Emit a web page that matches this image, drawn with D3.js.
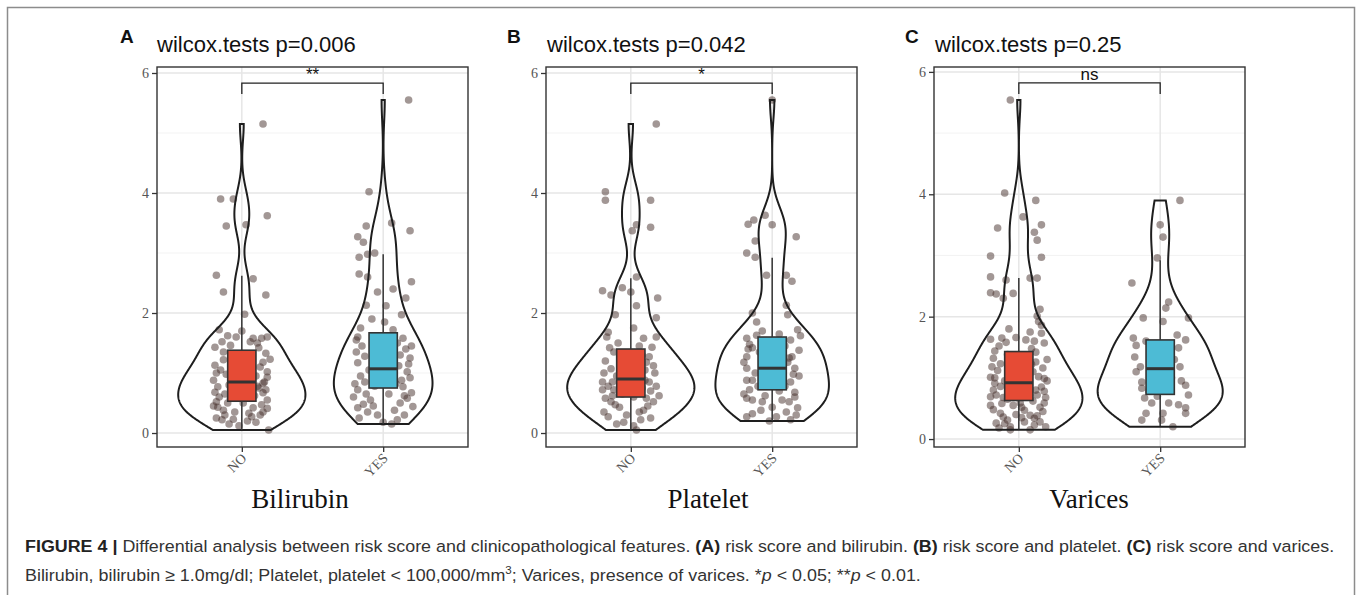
<!DOCTYPE html>
<html>
<head>
<meta charset="utf-8">
<script src="https://cdn.jsdelivr.net/npm/d3@7"></script>
<style>
body { margin: 0; background: #fff; }
svg { display: block; }
</style>
</head>
<body>
<svg width="1357" height="595"></svg>
<script>
"use strict";

// ---- data ----
const groups = ["NO", "YES"];
const panelLetters = ["A", "B", "C"];
const pValues = ["0.006", "0.042", "0.25"];
const sigLabels = ["**", "*", "ns"];
const xTitles = ["Bilirubin", "Platelet", "Varices"];
const yTicks = [0, 2, 4, 6];
const yMinorTicks = [1, 3, 5];
const yDomains = [[-0.233, 6.1], [-0.233, 6.1], [-0.13, 6.08]];
const bracketY = [[5.83, 5.65], [5.83, 5.65], [5.82, 5.64]];

// box stats: [lower whisker, q1, median, q3, upper whisker]
const boxBilirubin = [[0.05, 0.53, 0.85, 1.38, 2.62], [0.15, 0.75, 1.07, 1.67, 2.98]];
const boxPlatelet = [[0.05, 0.6, 0.9, 1.4, 2.58], [0.2, 0.72, 1.08, 1.6, 2.92]];
const boxVarices = [[0.15, 0.63, 0.92, 1.43, 2.63], [0.21, 0.73, 1.15, 1.62, 2.92]];

// jittered points: [x offset in category units, risk score]
const bilirubinNO = [
  [0.15,5.15],[-0.15,3.9],[-0.06,3.9],[0.18,3.62],[-0.11,3.45],[0.03,3.47],[-0.18,2.63],[0.08,2.57],
  [-0.13,2.35],[0.17,2.3],[0.02,1.98],[-0.16,1.72],[-0.10,1.62],[0.0,1.7],[0.08,1.58],[0.18,1.6],
  [-0.19,1.43],[-0.13,1.35],[0.11,1.5],[0.17,1.33],[0.15,1.18],[-0.19,1.13],[-0.13,1.22],[0.18,1.02],
  [0.18,0.93],[-0.2,0.88],[-0.17,0.77],[0.15,0.83],[0.16,0.85],[-0.19,0.68],[-0.16,0.6],[0.15,0.67],
  [0.18,0.55],[-0.18,0.52],[-0.17,0.43],[-0.13,0.38],[-0.05,0.35],[-0.12,0.3],[-0.18,0.25],[-0.14,0.22],
  [-0.06,0.23],[0.07,0.27],[0.1,0.18],[0.15,0.35],[0.18,0.41],[0.14,0.47],[0.19,0.05],[0.06,1.52],
  [-0.04,1.6],[0.12,1.42],[-0.08,1.46],[0.05,1.25],[-0.07,1.1],[0.02,1.0],[-0.02,0.95],[0.07,0.9],
  [-0.09,0.8],[0.04,0.72],[-0.04,0.7],[0.09,0.62],[-0.08,0.58],[0.01,0.5],[0.12,0.75],[-0.11,0.98],
  [0.13,1.1],[-0.15,1.05],[0.1,0.95],[-0.12,0.65],[0.08,0.42],[-0.02,0.12],[0.04,0.2],[-0.09,0.15],
  [0.13,0.3],[0.17,0.72],[-0.18,1.0],[0.2,1.23],[-0.2,0.45],[0.11,0.78],[-0.14,1.52],[0.05,0.33],
  [-0.1,0.5],[0.14,1.58]
];
const bilirubinYES = [
  [0.18,5.55],[-0.10,4.02],[-0.12,3.45],[-0.18,3.27],[-0.14,3.18],[0.06,3.5],[0.19,3.37],[-0.17,2.93],
  [-0.11,2.98],[-0.06,3.0],[-0.17,2.65],[-0.11,2.6],[0.2,2.52],[-0.04,2.35],[0.07,2.4],[0.16,2.25],
  [-0.12,2.13],[0.02,2.12],[0.13,1.97],[-0.08,1.9],[0.01,1.85],[-0.16,1.75],[0.07,1.72],[0.14,1.58],
  [-0.18,1.6],[0.19,1.25],[0.19,0.92],[-0.18,1.17],[-0.21,0.6],[-0.18,0.72],[-0.11,0.35],[0.0,0.18],
  [0.06,0.15],[-0.18,0.42],[0.17,0.58],[0.2,0.67],[0.21,0.44],[0.14,0.77],[0.13,0.88],[-0.15,1.45],
  [-0.19,1.35],[0.16,1.4],[0.1,1.5],[-0.07,1.55],[0.05,1.62],[-0.13,1.28],[0.12,1.3],[-0.1,1.05],
  [0.11,1.12],[-0.16,0.95],[0.17,1.02],[-0.13,0.85],[0.09,0.82],[-0.06,0.78],[0.04,0.65],[-0.09,0.55],
  [0.12,0.5],[-0.14,0.48],[0.08,0.38],[-0.04,0.3],[0.15,0.3],[-0.17,0.25],[0.1,0.22],[-0.07,0.45],
  [0.02,0.95],[-0.02,1.2],[0.07,1.38],[0.18,1.15],[-0.2,0.82],[0.15,0.62],[-0.12,0.65],[0.06,0.98],
  [-0.05,0.88],[0.2,1.45],[-0.19,1.55]
];
const plateletNO = [
  [0.18,5.15],[-0.18,4.02],[-0.18,3.88],[0.14,3.88],[0.04,3.47],[0.14,3.43],[0.01,3.37],[-0.2,2.37],
  [-0.14,2.3],[-0.06,2.42],[0.0,2.35],[0.04,2.6],[0.19,2.25],[-0.11,1.97],[0.18,1.92],[0.04,2.12],
  [-0.16,1.68],[-0.17,1.6],[0.02,1.75],[0.09,1.58],[0.18,1.6],[0.15,1.43],[0.13,1.27],[0.11,1.18],
  [-0.19,1.0],[-0.13,0.85],[-0.2,0.85],[-0.14,1.07],[0.13,0.85],[0.17,1.0],[-0.18,0.58],[-0.14,0.52],
  [-0.11,0.47],[-0.08,0.43],[-0.19,0.35],[-0.16,0.27],[-0.05,0.18],[0.04,0.05],[0.07,0.22],[0.09,0.38],
  [0.16,0.52],[0.11,0.58],[-0.09,1.5],[0.06,1.45],[-0.12,1.35],[0.08,1.3],[-0.03,1.25],[0.03,1.15],
  [-0.07,1.12],[0.1,1.05],[-0.1,0.95],[0.05,0.92],[-0.02,0.8],[0.08,0.75],[-0.12,0.72],[0.14,0.7],
  [-0.06,0.65],[0.02,0.6],[-0.16,0.78],[0.18,0.78],[0.12,0.45],[-0.03,0.3],[0.02,0.12],[-0.1,0.15],
  [0.14,0.25],[-0.18,1.2],[0.16,1.12],[-0.15,1.42],[0.2,0.62],[-0.04,0.95],[0.06,0.35],[-0.13,0.62],
  [0.1,0.88],[-0.2,0.72]
];
const plateletYES = [
  [0.0,5.55],[-0.05,3.63],[-0.13,3.55],[-0.17,3.48],[0.0,3.47],[0.17,3.27],[-0.12,3.2],[-0.18,3.0],
  [-0.12,2.93],[-0.04,2.63],[0.1,2.63],[0.14,2.53],[0.1,2.13],[-0.14,2.0],[-0.11,1.85],[0.11,1.97],
  [0.18,1.72],[-0.11,1.63],[-0.18,1.58],[-0.14,1.42],[-0.18,1.27],[0.13,1.55],[0.14,1.27],[0.16,1.08],
  [-0.18,1.08],[-0.18,0.88],[-0.14,0.88],[0.13,0.85],[0.16,0.68],[-0.16,0.72],[-0.18,0.58],[-0.14,0.55],
  [-0.08,0.38],[-0.07,0.52],[0.07,0.55],[0.12,0.52],[0.18,0.42],[-0.18,0.27],[0.03,0.27],[0.13,0.22],
  [0.0,0.43],[-0.16,1.48],[0.09,1.45],[0.19,1.38],[-0.09,1.35],[0.04,1.3],[-0.2,1.18],[0.11,1.18],
  [-0.06,1.12],[0.07,1.0],[-0.12,1.0],[0.19,0.95],[-0.03,0.92],[0.09,0.78],[-0.1,0.78],[0.16,0.6],
  [-0.2,0.65],[0.05,0.7],[-0.05,0.62],[0.1,0.35],[-0.14,0.32],[0.17,0.3],[-0.02,0.2],[0.2,1.62],
  [-0.07,1.7],[0.05,1.65],[0.15,0.98],[-0.17,1.4],[0.12,1.25]
];
const varicesNO = [
  [-0.06,5.54],[-0.1,4.02],[0.12,3.9],[0.03,3.63],[0.16,3.5],[0.11,3.38],[-0.15,3.45],[0.13,3.25],
  [-0.2,2.99],[0.16,2.97],[-0.2,2.65],[-0.09,2.6],[0.08,2.63],[0.13,2.63],[-0.2,2.39],[-0.16,2.37],
  [-0.11,2.3],[-0.04,2.38],[0.15,2.12],[0.13,2.01],[0.16,1.86],[0.08,1.75],[0.16,1.73],[-0.2,1.63],
  [-0.12,1.65],[-0.02,1.66],[0.05,1.62],[0.11,1.6],[0.18,1.57],[-0.17,1.44],[-0.18,1.32],[-0.13,1.23],
  [0.12,1.26],[0.17,1.16],[-0.2,1.01],[-0.17,0.91],[-0.18,0.8],[0.18,0.99],[0.16,0.85],[0.13,0.72],
  [-0.2,0.69],[0.18,0.59],[0.15,0.52],[-0.2,0.55],[-0.13,0.42],[-0.11,0.36],[-0.08,0.31],[0.08,0.39],
  [0.11,0.34],[0.15,0.28],[-0.06,0.2],[-0.06,0.15],[0.08,0.15],[0.11,0.23],[-0.16,0.26],[0.01,0.59],
  [0.04,0.47],[-0.14,1.52],[0.09,1.48],[-0.08,1.38],[0.06,1.35],[-0.15,1.12],[0.1,1.1],[-0.05,1.05],
  [0.03,0.98],[-0.1,0.95],[0.07,0.9],[-0.13,0.86],[0.12,0.8],[-0.03,0.78],[0.05,0.75],[-0.16,0.72],
  [0.19,0.68],[-0.08,0.65],[0.1,0.62],[-0.12,0.58],[0.02,0.52],[-0.18,0.48],[0.17,0.45],[-0.02,0.4],
  [0.13,0.38],[-0.1,0.25],[0.04,0.28],[0.19,0.2],[-0.14,0.18],[0.0,1.2],[-0.19,1.18],[0.2,1.3],
  [0.14,1.02],[-0.06,0.88],[0.07,0.7],[-0.11,0.68],[0.09,1.22],[-0.17,1.0],[0.18,0.78],[0.02,0.35],
  [-0.04,0.55],[0.12,1.42],[-0.09,1.58],[0.14,1.92],[-0.07,1.8],[0.2,0.95]
];
const varicesYES = [
  [0.14,3.9],[0.0,3.5],[0.02,3.3],[-0.02,2.96],[-0.2,2.55],[0.04,2.14],[0.06,2.24],[-0.12,1.98],
  [0.02,1.92],[0.2,1.98],[-0.19,1.65],[-0.17,1.53],[0.18,1.62],[0.13,1.49],[-0.18,1.34],[-0.14,1.18],
  [0.14,1.18],[-0.13,0.93],[-0.13,0.83],[0.18,0.88],[0.2,0.72],[-0.11,0.67],[-0.06,0.59],[0.06,0.59],
  [0.13,0.56],[0.18,0.51],[0.18,0.42],[-0.1,0.42],[-0.13,0.31],[0.01,0.31],[0.02,0.42],[0.09,0.2],
  [-0.05,1.45],[0.05,1.4],[-0.03,1.05],[0.08,1.0],[-0.08,0.78],[0.04,0.8],[0.1,1.3],[-0.1,1.6],
  [0.15,0.95],[-0.17,1.1],[-0.02,0.7],[0.12,1.7]
];

const panelPoints = [[bilirubinNO, bilirubinYES], [plateletNO, plateletYES], [varicesNO, varicesYES]];
const panelBoxes = [boxBilirubin, boxPlatelet, boxVarices];
const groupColors = ["#E64B35", "#4DBBD5"];

const captionLine1 = [
  {t: "FIGURE 4 | ", b: true}, {t: "Differential analysis between risk score and clinicopathological features. "},
  {t: "(A)", b: true}, {t: " risk score and bilirubin. "}, {t: "(B)", b: true}, {t: " risk score and platelet. "},
  {t: "(C)", b: true}, {t: " risk score and varices."}
];
const captionLine2 = [
  {t: "Bilirubin, bilirubin \u2265 1.0mg/dl; Platelet, platelet < 100,000/mm"}, {t: "3", sup: true},
  {t: "; Varices, presence of varices. *"}, {t: "p", i: true}, {t: " < 0.05; **"}, {t: "p", i: true}, {t: " < 0.01."}
];

// ---- layout ----
const svg = d3.select("svg");
const panelLeft = [157, 546, 934];
const panelWidth = 311;
const panelTop = 67, panelBottom = 447;
const letterX = [120, 507, 905];
const titleX = [157, 547, 935];
const xTitleX = [300, 708, 1089];

svg.append("rect")
  .attr("x", 7.5).attr("y", 7.5).attr("width", 1347).attr("height", 600)
  .attr("fill", "none").attr("stroke", "#8c8c8c").attr("stroke-width", 1.5);

function kde(values) {
  const sorted = values.slice().sort(d3.ascending);
  const n = sorted.length;
  const sd = d3.deviation(sorted);
  const iqr = d3.quantile(sorted, 0.75) - d3.quantile(sorted, 0.25);
  const bw = 0.9 * Math.min(sd, iqr / 1.34) * Math.pow(n, -0.2);
  const lo = sorted[0], hi = sorted[n - 1];
  return d3.range(512).map(i => {
    const g = lo + (hi - lo) * i / 511;
    const d = d3.mean(sorted, v => Math.exp(-0.5 * ((g - v) / bw) ** 2)) / (bw * Math.sqrt(2 * Math.PI));
    return [g, d];
  });
}

function drawPanel(p) {
  const left = panelLeft[p], right = left + panelWidth;
  const x = d3.scalePoint().domain(groups).range([left, right]).padding(0.6);
  const step = x.step();
  const y = d3.scaleLinear().domain(yDomains[p]).range([panelBottom, panelTop]);
  const g = svg.append("g");

  // grid
  g.selectAll(".minor").data(yMinorTicks).enter().append("line")
    .attr("x1", left).attr("x2", right).attr("y1", d => y(d)).attr("y2", d => y(d))
    .attr("stroke", "#f0f0f0").attr("stroke-width", 0.8);
  g.selectAll(".major").data(yTicks).enter().append("line")
    .attr("x1", left).attr("x2", right).attr("y1", d => y(d)).attr("y2", d => y(d))
    .attr("stroke", "#e6e6e6").attr("stroke-width", 1.5);
  g.selectAll(".vmajor").data(groups).enter().append("line")
    .attr("x1", d => x(d)).attr("x2", d => x(d)).attr("y1", panelTop).attr("y2", panelBottom)
    .attr("stroke", "#e6e6e6").attr("stroke-width", 1.5);

  // jitter points
  groups.forEach((grp, gi) => {
    g.selectAll(".pt" + gi).data(panelPoints[p][gi]).enter().append("circle")
      .attr("cx", d => x(grp) + d[0] * step)
      .attr("cy", d => y(d[1]))
      .attr("r", 3.8)
      .attr("fill", "#45302b").attr("fill-opacity", 0.5);
  });

  // violins (area-scaled like ggplot)
  const dens = panelPoints[p].map(pts => kde(pts.map(d => d[1])));
  const maxD = d3.max(dens, ds => d3.max(ds, d => d[1]));
  groups.forEach((grp, gi) => {
    const area = d3.area()
      .y(d => y(d[0]))
      .x0(d => x(grp) - d[1] / maxD * 0.45 * step)
      .x1(d => x(grp) + d[1] / maxD * 0.45 * step);
    g.append("path").datum(dens[gi]).attr("d", area)
      .attr("fill", "none").attr("stroke", "#1e1e1e").attr("stroke-width", 2);
  });

  // boxplots
  groups.forEach((grp, gi) => {
    const b = panelBoxes[p][gi];
    const cx = x(grp), hw = 0.1 * step;
    g.append("line").attr("x1", cx).attr("x2", cx).attr("y1", y(b[0])).attr("y2", y(b[1]))
      .attr("stroke", "#333").attr("stroke-width", 1.5);
    g.append("line").attr("x1", cx).attr("x2", cx).attr("y1", y(b[3])).attr("y2", y(b[4]))
      .attr("stroke", "#333").attr("stroke-width", 1.5);
    g.append("rect").attr("x", cx - hw).attr("width", 2 * hw)
      .attr("y", y(b[3])).attr("height", y(b[1]) - y(b[3]))
      .attr("fill", groupColors[gi]).attr("stroke", "#333").attr("stroke-width", 1.6);
    g.append("line").attr("x1", cx - hw).attr("x2", cx + hw).attr("y1", y(b[2])).attr("y2", y(b[2]))
      .attr("stroke", "#333").attr("stroke-width", 3);
  });

  // panel border
  g.append("rect").attr("x", left).attr("y", panelTop)
    .attr("width", panelWidth).attr("height", panelBottom - panelTop)
    .attr("fill", "none").attr("stroke", "#333").attr("stroke-width", 1.4);

  // axes
  const ya = g.append("g").attr("transform", `translate(${left},0)`)
    .call(d3.axisLeft(y).tickValues(yTicks).tickFormat(d3.format("d")).tickSize(5).tickPadding(3));
  ya.select(".domain").remove();
  ya.selectAll("line").attr("stroke", "#333").attr("stroke-width", 1.3);
  ya.selectAll("text").attr("font-family", "Liberation Serif, serif").attr("font-size", 14)
    .attr("fill", "#555");

  const xa = g.append("g").attr("transform", `translate(0,${panelBottom})`)
    .call(d3.axisBottom(x).tickSize(5).tickPadding(3));
  xa.select(".domain").remove();
  xa.selectAll("line").attr("stroke", "#333").attr("stroke-width", 1.3);
  xa.selectAll("text")
    .attr("font-family", "Liberation Serif, serif").attr("font-size", 14).attr("fill", "#555")
    .attr("text-anchor", "end").attr("y", 0).attr("dy", 0)
    .attr("transform", "translate(5,12) rotate(-45)");

  // significance bracket
  const [by0, by1] = bracketY[p];
  g.append("path")
    .attr("d", `M${x("NO")},${y(by1)}V${y(by0)}H${x("YES")}V${y(by1)}`)
    .attr("fill", "none").attr("stroke", "#222").attr("stroke-width", 1.3);
  g.append("text")
    .attr("x", (x("NO") + x("YES")) / 2).attr("y", y(by0) - 3)
    .attr("text-anchor", "middle")
    .attr("font-family", "Liberation Sans, Arial, sans-serif").attr("font-size", 17)
    .attr("fill", "#111").text(sigLabels[p]);

  // titles
  svg.append("text").attr("x", letterX[p]).attr("y", 43)
    .attr("font-family", "Liberation Sans, Arial, sans-serif").attr("font-weight", "bold")
    .attr("font-size", 19).attr("fill", "#111").text(panelLetters[p]);
  svg.append("text").attr("x", titleX[p]).attr("y", 52)
    .attr("font-family", "Liberation Sans, Arial, sans-serif")
    .attr("font-size", 22).attr("fill", "#111").text("wilcox.tests p=" + pValues[p]);
  svg.append("text").attr("x", xTitleX[p]).attr("y", 508)
    .attr("text-anchor", "middle")
    .attr("font-family", "Liberation Serif, serif")
    .attr("font-size", 27).attr("fill", "#111").text(xTitles[p]);
}

[0, 1, 2].forEach(drawPanel);

// caption
const cap = svg.append("g");
function captionLine(parts, yPos) {
  const t = cap.append("text").attr("x", 0).attr("y", yPos)
    .attr("font-family", "Liberation Sans, Arial, sans-serif").attr("font-size", 17).attr("fill", "#333");
  parts.forEach(pt => {
    const s = t.append("tspan").text(pt.t);
    if (pt.b) s.attr("font-weight", "bold").attr("fill", "#222");
    if (pt.i) s.attr("font-style", "italic");
    if (pt.sup) s.attr("font-size", 11).attr("dy", -7).attr("class", "sup");
  });
  // undo superscript shift on following tspan
  t.selectAll("tspan").each(function (d, i, nodes) {
    if (i > 0 && nodes[i - 1].getAttribute("class") === "sup") d3.select(this).attr("dy", 7);
  });
  return t;
}
const l1 = captionLine(captionLine1, 552);
captionLine(captionLine2, 581);
const natural = l1.node().getComputedTextLength();
const sx = 1310 / natural;
cap.attr("transform", `translate(25,0) scale(${sx},1)`);
</script>
</body>
</html>
